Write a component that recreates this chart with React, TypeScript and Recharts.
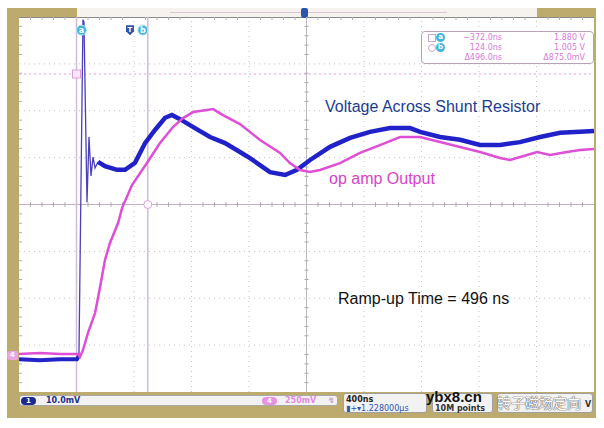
import React from 'react';
import { LineChart, Line, XAxis, YAxis, ReferenceLine, ReferenceDot } from 'recharts';

// time in ns, trigger at 0, screen centre at +1.228 µs, 400 ns/div
// ch1 = voltage across shunt resistor (10 mV/div), ch4 = op amp output (250 mV/div)
const ch1Time = [-772, -626, -487, -369, -355, -327, -320, -299, -285, -271, -257, -243, -222, -174, -90, -34, 35, 105, 174, 244, 292, 348, 452, 557, 661, 765, 835, 974, 1079, 1162, 1253, 1392, 1531, 1670, 1809, 1948, 2018, 2157, 2296, 2435, 2574, 2713, 2853, 2992, 3131, 3228];
const ch1mV = [-33.0, -33.2, -33.0, -33.0, -32.3, 39.4, 38.9, 0.5, 14.4, 6.1, 10.1, 7.8, 9.1, 8.2, 7.4, 7.4, 8.9, 13.1, 15.9, 18.5, 19.1, 18.2, 16.3, 14.4, 13.1, 11.2, 9.9, 6.9, 6.3, 7.4, 9.5, 12.3, 14.2, 15.5, 16.3, 16.3, 15.5, 14.4, 13.8, 12.7, 12.7, 13.3, 14.4, 15.3, 15.5, 15.7];

const ch4Time = [-772, -626, -487, -362, -348, -327, -292, -243, -208, -174, -139, -83, -55, 14, 118, 209, 299, 369, 439, 536, 578, 647, 765, 905, 1044, 1113, 1183, 1252, 1322, 1461, 1600, 1739, 1879, 2018, 2157, 2296, 2435, 2574, 2644, 2762, 2832, 2922, 3040, 3131, 3228];
const ch4mV = [-797, -792, -797, -797, -813, -776, -685, -579, -440, -296, -205, -99, -19, 104, 221, 328, 413, 461, 493, 504, 509, 477, 429, 344, 275, 221, 184, 173, 184, 221, 275, 317, 360, 360, 333, 307, 280, 248, 237, 264, 280, 264, 280, 291, 296];

const xTicks = [-772, -372, 28, 428, 828, 1228, 1628, 2028, 2428, 2828, 3228];
const yTicks = [-1000, -750, -500, -250, 0, 250, 500, 750, 1000];

const cursorTime = [-372, 124];
const cursorVolt = [1.88, 1.005];
const cursorLevel = 696;

const GOLD = '#bcab6c';
const PINK = '#d97ad9';

const ch1Data = ch1Time.map((t, i) => ({ t, v: ch1mV[i] }));
const ch4Data = ch4Time.map((t, i) => ({ t, v: ch4mV[i] }));

const minorX: number[] = [];
for (let i = 0; i < xTicks.length - 1; i++) for (let k = 1; k < 5; k++) minorX.push(xTicks[i] + k * 80);
const minorY: number[] = [];
for (let i = 0; i < yTicks.length - 1; i++) for (let k = 1; k < 5; k++) minorY.push(yTicks[i] + k * 50);

const txt = (left: number, top: number, s: React.CSSProperties = {}) => ({
  position: 'absolute' as const, left, top, whiteSpace: 'nowrap' as const, lineHeight: 1, ...s,
});

function Badge({ cx, cy, label, dx = 0 }: any) {
  return (
    <g>
      <circle cx={cx + dx} cy={cy} r={5} fill="#3fb5dc" stroke="#b8e6f4" strokeWidth={1} />
      <text x={cx + dx} y={cy + 3} textAnchor="middle" fontSize={8} fontWeight="bold" fill="#fff" fontFamily="DejaVu Sans">{label}</text>
    </g>
  );
}

export default function App() {
  const scope = { fontFamily: '"DejaVu Sans", Verdana, sans-serif', fontSize: 8, fontWeight: 'bold' as const };
  const dt = cursorTime[1] - cursorTime[0];
  const dv = (cursorVolt[0] - cursorVolt[1]) * 1000;
  return (
    <div style={{ position: 'absolute', left: 0, top: 0, width: 604, height: 428, background: '#fff', overflow: 'hidden', fontFamily: '"Liberation Sans", Arial, sans-serif' }}>
      <div style={{ position: 'absolute', left: 7, top: 8, width: 589, height: 410, background: GOLD }} />
      <div style={{ position: 'absolute', left: 77, top: 8, width: 460, height: 9, background: '#f6f3ee' }} />
      <div style={{ position: 'absolute', left: 170, top: 12, width: 277, height: 1, background: '#dcc6d6' }} />
      <div style={{ position: 'absolute', left: 19, top: 17, width: 575, height: 375, background: '#fff', borderTop: '1px solid #8a8a8a', boxSizing: 'border-box' }} />
      <div style={{ position: 'absolute', left: 301, top: 8, width: 7, height: 10, background: '#2a55a8', borderRadius: '2px 2px 3px 3px' }} />

      <div style={{ position: 'absolute', left: 0, top: 0 }}>
        <LineChart width={604} height={428} margin={{ top: 17, right: 10, bottom: 36, left: 19 }}>
          <XAxis type="number" dataKey="t" domain={[xTicks[0], xTicks[xTicks.length - 1]]} ticks={xTicks} hide allowDataOverflow />
          <YAxis yAxisId="ch1" type="number" domain={[-40, 40]} hide allowDataOverflow />
          <YAxis yAxisId="ch4" type="number" domain={[yTicks[0], yTicks[yTicks.length - 1]]} hide allowDataOverflow />

          {xTicks.slice(1, -1).map((x) => (
            <ReferenceLine key={'gx' + x} yAxisId="ch4" x={x} stroke="#c4c4c4" strokeDasharray="1 4" />
          ))}
          {yTicks.slice(1, -1).map((y) => (
            <ReferenceLine key={'gy' + y} yAxisId="ch4" y={y} stroke="#c4c4c4" strokeDasharray="1 4" />
          ))}
          <ReferenceLine yAxisId="ch4" x={1228} stroke="#c0b8c0" />
          <ReferenceLine yAxisId="ch4" y={0} stroke="#c0b0c0" />
          {minorX.map((x) => (
            <ReferenceLine key={'mx' + x} yAxisId="ch4" segment={[{ x, y: -12 }, { x, y: 12 }]} stroke="#a8a8a8" />
          ))}
          {minorY.map((y) => (
            <ReferenceLine key={'my' + y} yAxisId="ch4" segment={[{ x: 1214, y }, { x: 1242, y }]} stroke="#a8a8a8" />
          ))}
          {minorX.map((x) => (
            <ReferenceLine key={'tx' + x} yAxisId="ch4" segment={[{ x, y: 1000 }, { x, y: 984 }]} stroke="#b0b0b0" />
          ))}
          {minorY.map((y) => (
            <ReferenceLine key={'ly' + y} yAxisId="ch4" segment={[{ x: -772, y }, { x: -750, y }]} stroke="#b0b0b0" />
          ))}

          {cursorTime.map((x) => (
            <ReferenceLine key={'c' + x} yAxisId="ch4" x={x} stroke="#cdbcdd" strokeWidth={1.5} />
          ))}
          <ReferenceLine yAxisId="ch4" y={cursorLevel} stroke="#e6a0e6" strokeDasharray="2 3" />

          <Line yAxisId="ch1" data={ch1Data.slice(0, 5)} dataKey="v" stroke="#2323c8" strokeWidth={4} dot={false} isAnimationActive={false} />
          <Line yAxisId="ch1" data={ch1Data.slice(4, 13)} dataKey="v" stroke="#4c3fb8" strokeWidth={1.3} dot={false} isAnimationActive={false} />
          <Line yAxisId="ch1" data={ch1Data.slice(12)} dataKey="v" stroke="#2121c9" strokeWidth={4.5} dot={false} isAnimationActive={false} />
          <Line yAxisId="ch4" data={ch4Data} dataKey="v" stroke="#df4fd6" strokeWidth={2.5} dot={false} isAnimationActive={false} />

          <ReferenceDot yAxisId="ch4" x={cursorTime[0]} y={cursorLevel} r={4}
            shape={(p: any) => <rect x={p.cx - 4} y={p.cy - 4} width={8} height={8} fill="#fbe8fb" stroke="#dc9ddc" />} />
          <ReferenceDot yAxisId="ch4" x={cursorTime[1]} y={0} r={4}
            shape={(p: any) => <circle cx={p.cx} cy={p.cy} r={4} fill="#fff" stroke="#dca0dc" />} />
          <ReferenceDot yAxisId="ch4" x={cursorTime[0]} y={930} r={5} shape={(p: any) => <Badge cx={p.cx} cy={p.cy} label="a" dx={5} />} />
          <ReferenceDot yAxisId="ch4" x={cursorTime[1]} y={930} r={5} shape={(p: any) => <Badge cx={p.cx} cy={p.cy} label="b" dx={-5} />} />
          <ReferenceDot yAxisId="ch4" x={0} y={930} r={5}
            shape={(p: any) => (
              <g>
                <path d={`M${p.cx - 4},${p.cy - 5} h8 v6 l-4,4 l-4,-4 z`} fill="#2a55a8" />
                <text x={p.cx} y={p.cy + 2} textAnchor="middle" fontSize={7} fontWeight="bold" fill="#fff" fontFamily="DejaVu Sans">T</text>
              </g>
            )} />
        </LineChart>
      </div>

      {/* channel 4 offset tab */}
      <div style={{ position: 'absolute', left: 7, top: 351, width: 11, height: 9, background: '#e8a6e8', borderRadius: '4px 2px 2px 4px', color: '#fff', ...scope, fontSize: 7, textAlign: 'center', lineHeight: '9px' }}>4</div>

      {/* cursor readout */}
      <div style={{ position: 'absolute', left: 421, top: 31, width: 173, height: 33, border: '1px solid #b7a2b7', borderRadius: 4, background: '#fff', boxSizing: 'border-box' }} />
      <div style={{ position: 'absolute', left: 428, top: 34, width: 6, height: 6, border: '1px solid #c9a9c9' }} />
      <div style={{ position: 'absolute', left: 428, top: 44, width: 6, height: 6, border: '1px solid #c9a9c9', borderRadius: 4 }} />
      <div style={{ position: 'absolute', left: 436, top: 33, width: 9, height: 9, borderRadius: 5, background: '#3fb5dc', color: '#fff', ...scope, fontSize: 7, textAlign: 'center', lineHeight: '9px' }}>a</div>
      <div style={{ position: 'absolute', left: 436, top: 43, width: 9, height: 9, borderRadius: 5, background: '#3fb5dc', color: '#fff', ...scope, fontSize: 7, textAlign: 'center', lineHeight: '9px' }}>b</div>
      {[0, 1].map((i) => (
        <React.Fragment key={i}>
          <div style={txt(450, 34 + i * 10, { width: 52, textAlign: 'right', fontFamily: '"DejaVu Sans"', fontSize: 8, color: PINK })}>{`${cursorTime[i].toFixed(1).replace('-', '−')}ns`}</div>
          <div style={txt(535, 34 + i * 10, { width: 50, textAlign: 'right', fontFamily: '"DejaVu Sans"', fontSize: 8, color: PINK })}>{`${cursorVolt[i].toFixed(3)} V`}</div>
        </React.Fragment>
      ))}
      <div style={txt(450, 54, { width: 52, textAlign: 'right', fontFamily: '"DejaVu Sans"', fontSize: 8, color: PINK })}>{`Δ${dt.toFixed(1)}ns`}</div>
      <div style={txt(525, 54, { width: 60, textAlign: 'right', fontFamily: '"DejaVu Sans"', fontSize: 8, color: PINK })}>{`Δ${dv.toFixed(1)}mV`}</div>

      {/* annotations */}
      <div style={txt(325, 99, { fontSize: 16, color: '#1d3c8e' })}>Voltage Across Shunt Resistor</div>
      <div style={txt(329, 171, { fontSize: 16, color: '#d444c8' })}>op amp Output</div>
      <div style={txt(338, 291, { fontSize: 16, color: '#111' })}>Ramp-up Time = 496 ns</div>

      {/* status bar */}
      <div style={{ position: 'absolute', left: 19, top: 395, width: 319, height: 11, background: '#f2f2f2', border: '1px solid #a9a9a9', borderRadius: 3, boxSizing: 'border-box' }} />
      <div style={{ position: 'absolute', left: 21, top: 397, width: 15, height: 8, borderRadius: 4, background: '#1b2a8c', color: '#fff', ...scope, fontSize: 7, textAlign: 'center', lineHeight: '8px' }}>1</div>
      <div style={txt(46, 397, { ...scope, color: '#1f2f8a' })}>10.0mV</div>
      <div style={{ position: 'absolute', left: 262, top: 397, width: 15, height: 8, borderRadius: 4, background: '#e892e2', color: '#fff', ...scope, fontSize: 7, textAlign: 'center', lineHeight: '8px' }}>4</div>
      <div style={txt(285, 397, { ...scope, color: '#e38ae0' })}>250mV</div>
      <div style={txt(328, 397, { ...scope, color: '#c9a0c9' })}>↯</div>

      <div style={{ position: 'absolute', left: 343, top: 393, width: 84, height: 20, background: '#f2f2f2', border: '1px solid #a0a0a0', borderRadius: 3, boxSizing: 'border-box' }} />
      <div style={txt(346, 396, { ...scope, color: '#222' })}>400ns</div>
      <div style={txt(346, 405, { ...scope, fontWeight: 'normal', color: '#2a55b0' })}>▮+▾1.228000µs</div>
      <div style={{ position: 'absolute', left: 432, top: 393, width: 61, height: 20, background: '#f2f2f2', border: '1px solid #a0a0a0', borderRadius: 3, boxSizing: 'border-box' }} />
      <div style={txt(435, 405, { ...scope, color: '#333' })}>10M points</div>
      <div style={{ position: 'absolute', left: 497, top: 393, width: 96, height: 20, background: '#f2f2f2', border: '1px solid #a0a0a0', borderRadius: 3, boxSizing: 'border-box' }} />
      <div style={txt(585, 401, { ...scope, color: '#333' })}>V</div>

      {/* watermark */}
      <div style={txt(426, 389, { fontSize: 15, fontWeight: 'bold', color: '#111' })}>ybx8.cn</div>
      <div style={txt(497, 395, { fontFamily: '"Noto Sans CJK SC", sans-serif', fontSize: 14, color: '#fff', textShadow: '0 0 1px #555, 0 0 1px #555, 0 0 1px #777' })}>转子磁场定向</div>
    </div>
  );
}
